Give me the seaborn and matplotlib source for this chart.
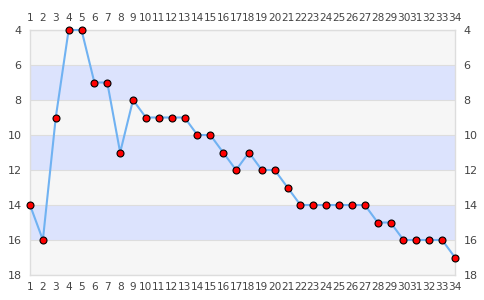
import matplotlib
matplotlib.use("Agg")
import matplotlib.pyplot as plt
import seaborn as sns
import pandas as pd

rounds = list(range(1, 35))
positions = [14, 16, 9, 4, 4, 7, 7, 11, 8, 9, 9, 9, 9, 10, 10, 11, 12, 11, 12, 12,
             13, 14, 14, 14, 14, 14, 14, 15, 15, 16, 16, 16, 16, 17]
y_ticks = [4, 6, 8, 10, 12, 14, 16, 18]

df = pd.DataFrame({"round": rounds, "position": positions})

sns.set_theme(style="white")
plt.rcParams['font.family'] = ['DejaVu Sans']

fig = plt.figure(figsize=(4.85, 3.0), dpi=100)
ax = fig.add_axes([30/485, 25/300, 425/485, 245/300])

band_colors = ["#f6f6f6", "#dce3fd"]
for i in range(len(y_ticks) - 1):
    ax.axhspan(y_ticks[i], y_ticks[i+1], color=band_colors[i % 2], zorder=0, lw=0)
for t in y_ticks:
    ax.axhline(t, color="#dddddd", lw=0.8, zorder=1)

sns.lineplot(data=df, x="round", y="position", ax=ax, color="#70b2f2", lw=1.5,
             marker="o", markersize=5, markerfacecolor="#ff0000",
             markeredgecolor="#000000", markeredgewidth=0.8, zorder=3, clip_on=False)

ax.set_xlim(1, 34)
ax.set_ylim(18, 4)
ax.set_xticks(rounds)
ax.set_yticks(y_ticks)
ax.set_xlabel("")
ax.set_ylabel("")
ax.tick_params(axis="x", which="both", labelsize=7.6, colors="#444444", top=False, bottom=False,
               labeltop=True, labelbottom=True, pad=5, length=0)
ax.tick_params(axis="y", which="both", labelsize=8, colors="#444444", left=False, right=False,
               labelleft=True, labelright=True, pad=6, length=0)
for s in ax.spines.values():
    s.set_color("#dddddd")
    s.set_linewidth(1)
    s.set_visible(True)

fig.savefig("out.png", dpi=100)
